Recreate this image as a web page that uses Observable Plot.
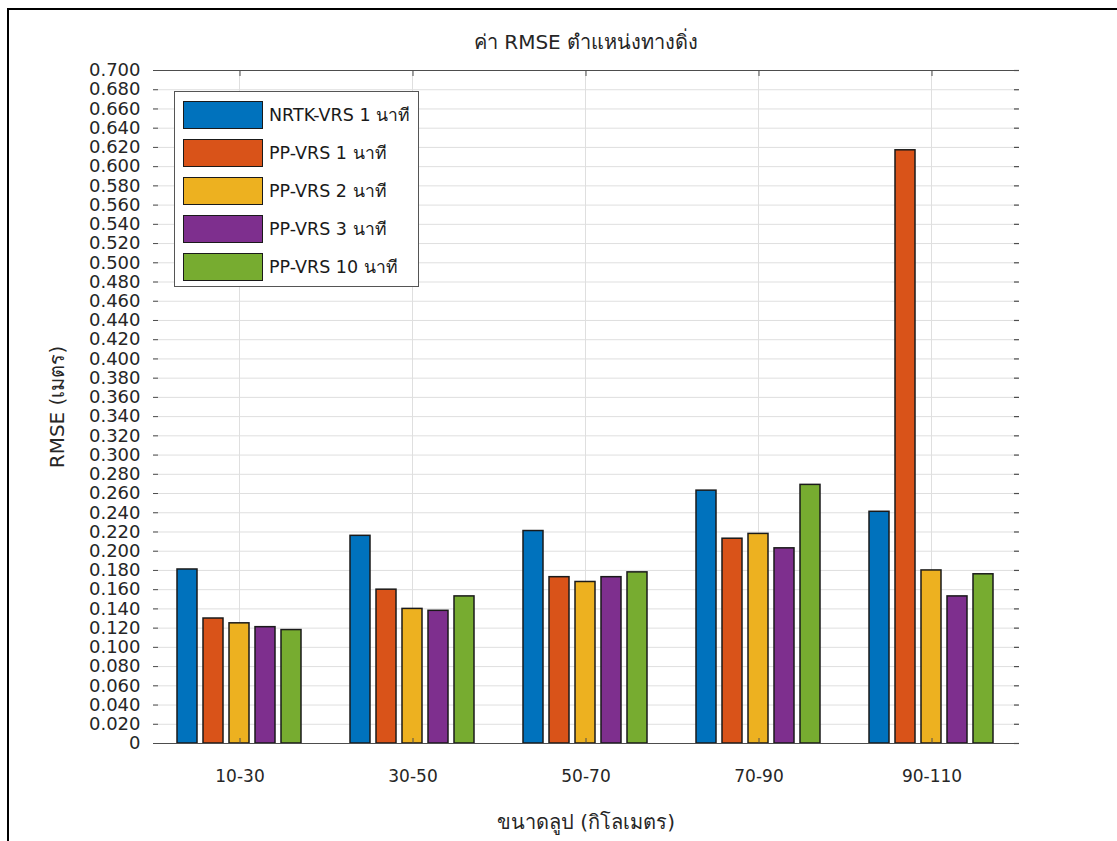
<!DOCTYPE html>
<html>
<head>
<meta charset="utf-8">
<script src="https://cdn.jsdelivr.net/npm/d3@7"></script>
<script src="https://cdn.jsdelivr.net/npm/@observablehq/plot@0.6"></script>
<style>
  body { margin: 0; background: #fff; }
  #wrap { position: relative; width: 1117px; height: 841px; background: #fff; overflow: hidden; font-family: "DejaVu Sans", "Noto Sans", sans-serif; color: #262626; }
  #border { position: absolute; left: 7px; top: 8px; width: 1120px; height: 840px; border-left: 2px solid #000; border-top: 2px solid #000; }
  #chart { position: absolute; left: 0; top: 0; }
  #title { position: absolute; left: 586px; top: 42px; transform: translate(-50%, -50%); font-size: 20px; white-space: nowrap; }
  #xlabel { position: absolute; left: 586px; top: 822px; transform: translate(-50%, -50%); font-size: 20px; white-space: nowrap; }
  #ylabel { position: absolute; left: 57px; top: 407px; transform: translate(-50%, -50%) rotate(-90deg); font-size: 20px; white-space: nowrap; }
  #legend { position: absolute; left: 174px; top: 91px; width: 243px; height: 194px; border: 1px solid #555; background: #fff; }
  .row { position: absolute; left: 8px; height: 28px; }
  .sw { position: absolute; left: 0; top: 0; width: 78px; height: 26px; border: 1.5px solid #1a1a1a; }
  .lb { position: absolute; left: 86px; top: 0; line-height: 28px; font-size: 17.5px; white-space: nowrap; color: #1a1a1a; }
</style>
</head>
<body>
<div id="wrap">
  <div id="border"></div>
  <div id="chart"></div>
  <div id="title"></div>
  <div id="xlabel"></div>
  <div id="ylabel"></div>
  <div id="legend"></div>
</div>
<script>
const categories = ["10-30", "30-50", "50-70", "70-90", "90-110"];
const series = ["NRTK-VRS 1 นาที", "PP-VRS 1 นาที", "PP-VRS 2 นาที", "PP-VRS 3 นาที", "PP-VRS 10 นาที"];
const nrtkVrs1 = [0.181, 0.216, 0.221, 0.263, 0.241];
const ppVrs1   = [0.130, 0.160, 0.173, 0.213, 0.617];
const ppVrs2   = [0.125, 0.140, 0.168, 0.218, 0.180];
const ppVrs3   = [0.121, 0.138, 0.173, 0.203, 0.153];
const ppVrs10  = [0.118, 0.153, 0.178, 0.269, 0.176];
const colors = ["#0072BD", "#D95319", "#EDB120", "#7E2F8E", "#77AC30"];
const yTicks = [0, 0.02, 0.04, 0.06, 0.08, 0.10, 0.12, 0.14, 0.16, 0.18, 0.20, 0.22, 0.24, 0.26, 0.28, 0.30,
  0.32, 0.34, 0.36, 0.38, 0.40, 0.42, 0.44, 0.46, 0.48, 0.50, 0.52, 0.54, 0.56, 0.58, 0.60, 0.62, 0.64,
  0.66, 0.68, 0.70];
const titleText = "ค่า RMSE ตำแหน่งทางดิ่ง";
const xLabel = "ขนาดลูป (กิโลเมตร)";
const yLabel = "RMSE (เมตร)";

const valuesBySeries = [nrtkVrs1, ppVrs1, ppVrs2, ppVrs3, ppVrs10];
const data = categories.flatMap((c, i) => series.map((s, j) => ({category: c, series: s, value: valuesBySeries[j][i]})));
const yFmt = d => d === 0 ? "0" : d.toFixed(3);
const axisColor = "#4d4d4d";
const gridColor = "#dfdfdf";

const chart = Plot.plot({
  width: 1117,
  height: 841,
  marginLeft: 153,
  marginRight: 99,
  marginTop: 70,
  marginBottom: 98,
  style: {fontFamily: "'DejaVu Sans', 'Noto Sans', sans-serif", fontSize: "18px", color: "#262626", background: "transparent"},
  fx: {domain: categories, padding: 0, label: null},
  x: {domain: series, paddingInner: 0.23, paddingOuter: 0.85, axis: null},
  y: {domain: [0, 0.7], label: null},
  color: {domain: series, range: colors},
  marks: [
    Plot.gridY(yTicks, {stroke: gridColor, strokeOpacity: 1}),
    Plot.ruleX([series[2]], {x: d => d, stroke: gridColor, strokeOpacity: 1}),
    Plot.barY(data, {fx: "category", x: "series", y: "value", fill: "series", stroke: "#1a1a1a", strokeWidth: 1.5}),
    Plot.ruleY([0, 0.7], {stroke: axisColor, strokeWidth: 1.2}),
    Plot.axisY(yTicks, {anchor: "left", tickSize: 0, tickPadding: 13, tickFormat: yFmt, line: true, stroke: axisColor, strokeWidth: 1.2, fontSize: 18, label: null}),
    Plot.axisY(yTicks, {anchor: "left", tickSize: 5, dx: 5, tickFormat: () => "", stroke: axisColor, label: null}),
    Plot.axisY(yTicks, {anchor: "right", tickSize: 5, dx: -5, tickFormat: () => "", line: true, stroke: axisColor, strokeWidth: 1.2, label: null}),
    Plot.axisFx({anchor: "bottom", tickSize: 0, tickPadding: 26, fontSize: 17, label: null}),
    Plot.axisFx({anchor: "bottom", tickSize: 5, dy: -5, tickFormat: () => "", stroke: axisColor, label: null}),
    Plot.axisFx({anchor: "top", tickSize: 5, dy: 5, tickFormat: () => "", stroke: axisColor, label: null})
  ]
});
document.getElementById("chart").appendChild(chart);
document.getElementById("title").textContent = titleText;
document.getElementById("xlabel").textContent = xLabel;
document.getElementById("ylabel").textContent = yLabel;

const legend = document.getElementById("legend");
const rowTops = [9, 47, 85, 123, 161];
series.forEach((s, i) => {
  const row = document.createElement("div");
  row.className = "row";
  row.style.top = rowTops[i] + "px";
  const sw = document.createElement("div");
  sw.className = "sw";
  sw.style.background = colors[i];
  const lb = document.createElement("div");
  lb.className = "lb";
  lb.textContent = s;
  row.appendChild(sw);
  row.appendChild(lb);
  legend.appendChild(row);
});
</script>
</body>
</html>
